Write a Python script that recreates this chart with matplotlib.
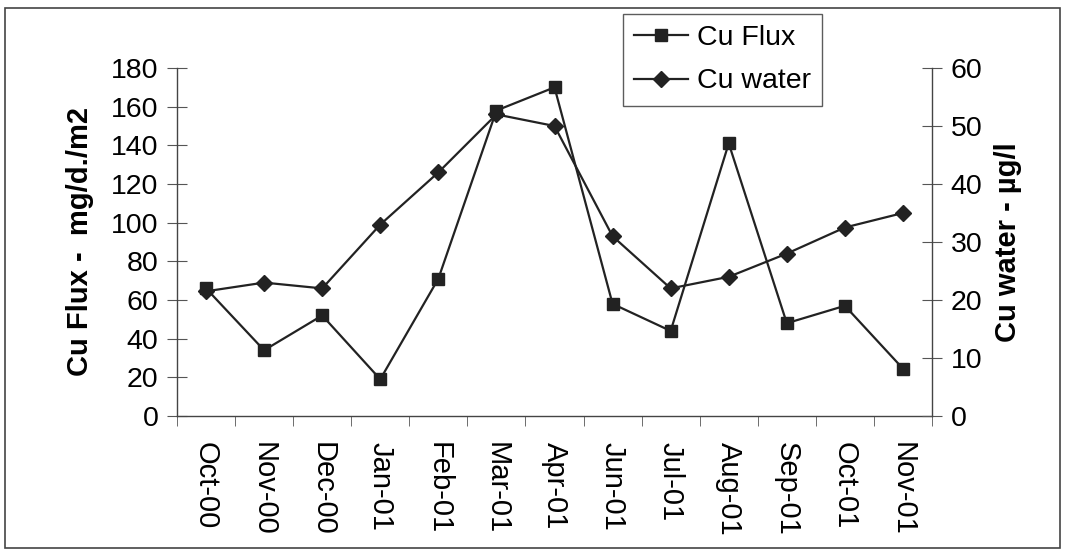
import numpy as np
import matplotlib
matplotlib.use("Agg")
import matplotlib.pyplot as plt
from matplotlib.patches import Rectangle

plt.rcParams['font.family'] = ['Liberation Sans', 'DejaVu Sans']

# data
months = ["Oct-00", "Nov-00", "Dec-00", "Jan-01", "Feb-01", "Mar-01", "Apr-01",
          "Jun-01", "Jul-01", "Aug-01", "Sep-01", "Oct-01", "Nov-01"]
cu_flux = [66, 34, 52, 19, 71, 158, 170, 58, 44, 141, 48, 57, 24.5]
cu_water = [21.5, 23, 22, 33, 42, 52, 50, 31, 22, 24, 28, 32.5, 35]

flux_ticks = [0, 20, 40, 60, 80, 100, 120, 140, 160, 180]
water_ticks = [0, 10, 20, 30, 40, 50, 60]

W, H = 1066, 553
fig = plt.figure(figsize=(W / 100, H / 100), dpi=100)
ax = fig.add_axes([177 / W, 1 - 416 / H, (932 - 177) / W, (416 - 68) / H])
ax2 = ax.twinx()

x = np.arange(len(months))
ink = "#222222"
l1, = ax.plot(x, cu_flux, color=ink, lw=1.6, marker="s", ms=8.5, label="Cu Flux")
l2, = ax2.plot(x, cu_water, color=ink, lw=1.6, marker="D", ms=8.5, label="Cu water")

ax.set_xlim(-0.5, len(months) - 0.5)
ax.set_ylim(0, 180)
ax2.set_ylim(0, 60)

ax.set_yticks(flux_ticks)
ax2.set_yticks(water_ticks)
ax.set_xticks(x)
ax.set_xticklabels(months, rotation=270, fontsize=21)
ax.set_xticks(np.arange(-0.5, len(months), 1), minor=True)
ax.tick_params(axis="x", which="major", length=0, pad=19)
ax.tick_params(axis="x", which="minor", length=7, direction="out", color="#555555")
ax.tick_params(axis="y", direction="inout", length=15, labelsize=20.5, pad=6, color="#555555")
ax2.tick_params(axis="y", direction="inout", length=15, labelsize=20.5, pad=6, color="#555555")

for a in (ax, ax2):
    a.spines["top"].set_visible(False)
    for s in a.spines.values():
        s.set_color("#444444")
        s.set_linewidth(1.0)
ax.spines["right"].set_visible(False)
ax2.spines["left"].set_visible(False)
ax2.spines["bottom"].set_visible(False)

ax.set_ylabel("Cu Flux -  mg/d./m2", fontsize=21, fontweight="bold", labelpad=12)
ax2.set_ylabel("Cu water - µg/l", fontsize=21, fontweight="bold", labelpad=8)

leg = fig.legend([l1, l2], ["Cu Flux", "Cu water"], loc="upper left",
                 bbox_to_anchor=(623 / W, 1 - 14 / H), borderaxespad=0,
                 fontsize=20.5, frameon=True, fancybox=False, handlelength=1.9,
                 handletextpad=0.3, borderpad=0.4, labelspacing=0.6)
leg.get_frame().set_edgecolor("#333333")
leg.get_frame().set_linewidth(1.0)

# outer frame around the whole chart
fig.patches.append(Rectangle((5 / W, 5 / H), 1055 / W, 540 / H, transform=fig.transFigure,
                             fill=False, edgecolor="#444444", lw=1.2))

fig.savefig("out.png", dpi=100)
